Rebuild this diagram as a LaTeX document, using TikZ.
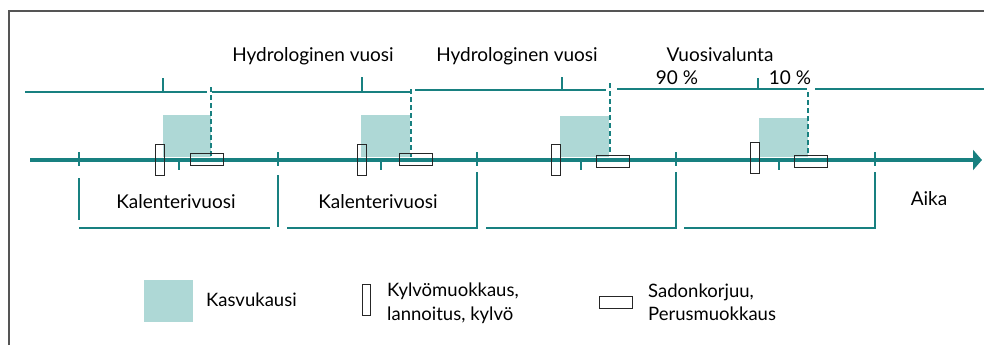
\documentclass[tikz,border=0pt]{standalone}
\usepackage{fontspec}
\setmainfont{Lato}
\usetikzlibrary{arrows.meta}
\definecolor{tealline}{RGB}{24,128,128}
\definecolor{growfill}{RGB}{174,216,214}
\definecolor{framegray}{RGB}{85,85,85}
\begin{document}
\begin{tikzpicture}[x=1pt,y=-1pt,
  tl/.style={draw=tealline, line width=2pt},
  axisline/.style={draw=tealline, line width=4.5pt, -{Triangle[length=9pt,width=20pt]}},
  dsh/.style={draw=tealline, line width=2pt, dash pattern=on 5pt off 3pt},
  season/.style={fill=growfill, draw=none, inner sep=0pt, outer sep=0pt},
  sowbox/.style={draw=black!85, line width=1pt, inner sep=0pt, minimum width=9pt, minimum height=31pt},
  harvbox/.style={draw=black!85, line width=1pt, inner sep=0pt, minimum width=33pt, minimum height=12pt},
  lbl/.style={font=\fontsize{19}{22}\selectfont, inner sep=0pt, anchor=base},
  lgl/.style={font=\fontsize{18.5}{22}\selectfont, inner sep=0pt, anchor=base west}
]
\useasboundingbox (0,0) rectangle (984,345);
% frame
\coordinate (fa) at (9,345);
\coordinate (fb) at (9,11);
\coordinate (fc) at (984,11);
\draw[framegray, line width=1.4pt] (fa) -- (fb) -- (fc);

% growing seasons
\node[season, minimum width=48pt, minimum height=42pt] (g1) at (187,136) {};
\node[season, minimum width=49pt, minimum height=42pt] (g2) at (385.5,136) {};
\node[season, minimum width=49pt, minimum height=41pt] (g3) at (584.5,136.5) {};
\node[season, minimum width=49pt, minimum height=39pt] (g4) at (783.5,137.5) {};

% time axis
\coordinate (a0) at (30,160);
\coordinate (a1) at (982,160);
\draw[axisline] (a0) -- (a1);
\foreach \x in {79,278,477,676,875} \draw[tl] (\x,152) -- (\x,166);
\foreach \x in {179,381,581,779} \draw[tl] (\x,160) -- (\x,170);

% hydrological year line
\draw[tl] (25,92) -- (207,92);
\draw[tl] (212,92) -- (411,92);
\draw[tl] (415,90) -- (606,90);
\draw[tl] (617,89) -- (807,89);
\draw[tl] (815,89) -- (984,89);
\draw[tl] (163,78) -- (163,92);
\draw[tl] (362,77) -- (362,92);
\draw[tl] (562,77) -- (562,90);
\draw[tl] (758,78) -- (758,89);

% dashed season ends
\draw[dsh] (211,87) -- (211,157);
\draw[dsh] (411,89) -- (411,157);
\draw[dsh] (610,83) -- (610,155);
\draw[dsh] (808,92) -- (808,155);

% calendar year brackets
\draw[tl] (79,178) -- (79,220);
\draw[tl] (79,228) -- (270,228);
\draw[tl] (278,175) -- (278,227);
\draw[tl] (287,228) -- (477,228) -- (477,172);
\draw[tl] (486,228) -- (676,228) -- (676,172);
\draw[tl] (684,228) -- (875,228) -- (875,172);

% sowing boxes
\node[sowbox] (s1) at (159.5,159.5) {};
\node[sowbox] (s2) at (362,159.5) {};
\node[sowbox] (s3) at (555.5,159.5) {};
\node[sowbox] (s4) at (754.5,157.5) {};
% harvest boxes
\node[harvbox] (h1) at (206.5,159) {};
\node[harvbox] (h2) at (415.5,159) {};
\node[harvbox] (h3) at (612.5,161.5) {};
\node[harvbox] (h4) at (810.5,161.5) {};

% labels
\node[lbl] (hv1) at (313,62) {Hydrologinen vuosi};
\node[lbl] (hv2) at (517,62) {Hydrologinen vuosi};
\node[lbl] (vv) at (720,62) {Vuosivalunta};
\node[lbl] (p90) at (677,84) {90 \%};
\node[lbl] (p10) at (790,84) {10 \%};
\node[lbl] (kv1) at (176,208) {Kalenterivuosi};
\node[lbl] (kv2) at (378,208) {Kalenterivuosi};
\node[lbl] (aika) at (929,205) {Aika};

% legend
\node[season, minimum width=49pt, minimum height=42pt] (lg) at (168.5,301) {};
\node[lgl] (lgt) at (206,306) {Kasvukausi};
\node[sowbox, line width=0.8pt, minimum width=8pt] (ls) at (366,299.5) {};
\node[lgl] (lst1) at (387,296) {Kylvömuokkaus,};
\node[lgl] (lst2) at (387,320) {lannoitus, kylvö};
\node[harvbox, line width=0.8pt] (lh) at (615.5,302) {};
\node[lgl] (lht1) at (648,297) {Sadonkorjuu,};
\node[lgl] (lht2) at (648,320) {Perusmuokkaus};
\end{tikzpicture}
\end{document}
